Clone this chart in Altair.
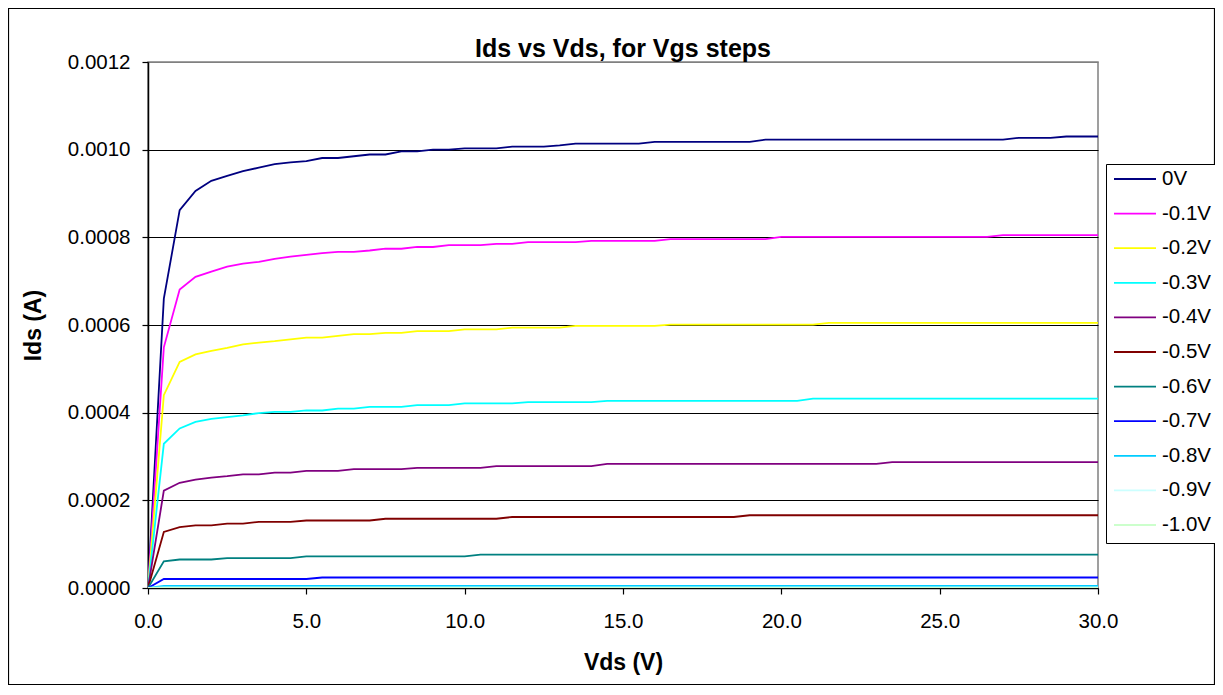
import altair as alt
import pandas as pd

# Drain-source voltage (V)
vds = [0.0, 0.5, 1.0, 1.5, 2.0, 2.5, 3.0, 3.5, 4.0, 4.5,
       5.0, 5.5, 6.0, 6.5, 7.0, 7.5, 8.0, 8.5, 9.0, 9.5,
       10.0, 10.5, 11.0, 11.5, 12.0, 12.5, 13.0, 13.5, 14.0, 14.5,
       15.0, 15.5, 16.0, 16.5, 17.0, 17.5, 18.0, 18.5, 19.0, 19.5,
       20.0, 20.5, 21.0, 21.5, 22.0, 22.5, 23.0, 23.5, 24.0, 24.5,
       25.0, 25.5, 26.0, 26.5, 27.0, 27.5, 28.0, 28.5, 29.0, 29.5,
       30.0]

# Drain current per Vgs step, in microamps
ids_0v = [0, 660, 862, 906, 929, 940, 951, 959, 967, 971,
          974, 981, 981, 985, 989, 989, 996, 996, 1000, 1000,
          1003, 1003, 1003, 1007, 1007, 1007, 1010, 1014, 1014, 1014,
          1014, 1014, 1018, 1018, 1018, 1018, 1018, 1018, 1018, 1023,
          1023, 1023, 1023, 1023, 1023, 1023, 1023, 1023, 1023, 1023,
          1023, 1023, 1023, 1023, 1023, 1027, 1027, 1027, 1030, 1030,
          1030]
ids_m01 = [0, 549, 681, 710, 722, 733, 740, 744, 751, 756,
           760, 764, 767, 767, 770, 774, 774, 778, 778, 782,
           782, 782, 785, 785, 789, 789, 789, 789, 792, 792,
           792, 792, 792, 796, 796, 796, 796, 796, 796, 796,
           801, 801, 801, 801, 801, 801, 801, 801, 801, 801,
           801, 801, 801, 801, 805, 805, 805, 805, 805, 805,
           805]
ids_m02 = [0, 440, 516, 533, 541, 548, 556, 560, 563, 567,
           571, 571, 575, 579, 579, 582, 582, 586, 586, 586,
           590, 590, 590, 594, 594, 594, 594, 598, 598, 598,
           598, 598, 598, 601, 601, 601, 601, 601, 601, 601,
           601, 601, 601, 605, 605, 605, 605, 605, 605, 605,
           605, 605, 605, 605, 605, 605, 605, 605, 605, 605,
           605]
ids_m03 = [0, 329, 364, 379, 386, 390, 394, 399, 402, 402,
           405, 405, 409, 409, 413, 413, 413, 417, 417, 417,
           421, 421, 421, 421, 424, 424, 424, 424, 424, 427,
           427, 427, 427, 427, 427, 427, 427, 427, 427, 427,
           427, 427, 432, 432, 432, 432, 432, 432, 432, 432,
           432, 432, 432, 432, 432, 432, 432, 432, 432, 432,
           432]
ids_m04 = [0, 222, 240, 247, 252, 255, 259, 259, 263, 263,
           267, 267, 267, 271, 271, 271, 271, 274, 274, 274,
           274, 274, 278, 278, 278, 278, 278, 278, 278, 283,
           283, 283, 283, 283, 283, 283, 283, 283, 283, 283,
           283, 283, 283, 283, 283, 283, 283, 287, 287, 287,
           287, 287, 287, 287, 287, 287, 287, 287, 287, 287,
           287]
ids_m05 = [0, 128, 139, 143, 143, 147, 147, 151, 151, 151,
           154, 154, 154, 154, 154, 158, 158, 158, 158, 158,
           158, 158, 158, 162, 162, 162, 162, 162, 162, 162,
           162, 162, 162, 162, 162, 162, 162, 162, 166, 166,
           166, 166, 166, 166, 166, 166, 166, 166, 166, 166,
           166, 166, 166, 166, 166, 166, 166, 166, 166, 166,
           166]
ids_m06 = [0, 61, 65, 65, 65, 68, 68, 68, 68, 68,
           72, 72, 72, 72, 72, 72, 72, 72, 72, 72,
           72, 76, 76, 76, 76, 76, 76, 76, 76, 76,
           76, 76, 76, 76, 76, 76, 76, 76, 76, 76,
           76, 76, 76, 76, 76, 76, 76, 76, 76, 76,
           76, 76, 76, 76, 76, 76, 76, 76, 76, 76,
           76]
ids_m07 = [0, 20.5, 20.5, 20.5, 20.5, 20.5, 20.5, 20.5, 20.5, 20.5,
           20.5, 24, 24, 24, 24, 24, 24, 24, 24, 24,
           24, 24, 24, 24, 24, 24, 24, 24, 24, 24,
           24, 24, 24, 24, 24, 24, 24, 24, 24, 24,
           24, 24, 24, 24, 24, 24, 24, 24, 24, 24,
           24, 24, 24, 24, 24, 24, 24, 24, 24, 24,
           24]
ids_m08 = [0, 4.6, 4.6, 4.6, 4.6, 4.6, 4.6, 4.6, 4.6, 4.6,
           4.6, 4.6, 4.6, 4.6, 4.6, 4.6, 4.6, 4.6, 4.6, 4.6,
           4.6, 4.6, 4.6, 4.6, 4.6, 4.6, 4.6, 4.6, 4.6, 4.6,
           4.6, 4.6, 4.6, 4.6, 4.6, 4.6, 4.6, 4.6, 4.6, 4.6,
           4.6, 4.6, 4.6, 4.6, 4.6, 4.6, 4.6, 4.6, 4.6, 4.6,
           4.6, 4.6, 4.6, 4.6, 4.6, 4.6, 4.6, 4.6, 4.6, 4.6,
           4.6]
ids_m09 = [0, 1.5, 1.5, 1.5, 1.5, 1.5, 1.5, 1.5, 1.5, 1.5,
           1.5, 1.5, 1.5, 1.5, 1.5, 1.5, 1.5, 1.5, 1.5, 1.5,
           1.5, 1.5, 1.5, 1.5, 1.5, 1.5, 1.5, 1.5, 1.5, 1.5,
           1.5, 1.5, 1.5, 1.5, 1.5, 1.5, 1.5, 1.5, 1.5, 1.5,
           1.5, 1.5, 1.5, 1.5, 1.5, 1.5, 1.5, 1.5, 1.5, 1.5,
           1.5, 1.5, 1.5, 1.5, 1.5, 1.5, 1.5, 1.5, 1.5, 1.5,
           1.5]
ids_m10 = [0, 0.5, 0.5, 0.5, 0.5, 0.5, 0.5, 0.5, 0.5, 0.5,
           0.5, 0.5, 0.5, 0.5, 0.5, 0.5, 0.5, 0.5, 0.5, 0.5,
           0.5, 0.5, 0.5, 0.5, 0.5, 0.5, 0.5, 0.5, 0.5, 0.5,
           0.5, 0.5, 0.5, 0.5, 0.5, 0.5, 0.5, 0.5, 0.5, 0.5,
           0.5, 0.5, 0.5, 0.5, 0.5, 0.5, 0.5, 0.5, 0.5, 0.5,
           0.5, 0.5, 0.5, 0.5, 0.5, 0.5, 0.5, 0.5, 0.5, 0.5,
           0.5]

series_names = ["0V", "-0.1V", "-0.2V", "-0.3V", "-0.4V", "-0.5V",
                "-0.6V", "-0.7V", "-0.8V", "-0.9V", "-1.0V"]
series_colors = ["#000080", "#FF00FF", "#FFFF00", "#00FFFF", "#800080", "#800000",
                 "#008080", "#0000FF", "#00CCFF", "#CCFFFF", "#CCFFCC"]
series_values = [ids_0v, ids_m01, ids_m02, ids_m03, ids_m04, ids_m05,
                 ids_m06, ids_m07, ids_m08, ids_m09, ids_m10]

chart_title = "Ids vs Vds, for Vgs steps"
y_ticks = [0.0, 0.0002, 0.0004, 0.0006, 0.0008, 0.0010, 0.0012]
x_ticks = [0, 5, 10, 15, 20, 25, 30]

rows = []
for si, (name, vals) in enumerate(zip(series_names, series_values)):
    for v, i_ua in zip(vds, vals):
        rows.append({"Vgs": name, "order": si, "Vds": v, "Ids": i_ua * 1e-6})
df = pd.DataFrame(rows)

FONT = "Liberation Sans"

lines = alt.Chart(df).mark_line(strokeWidth=1.8, clip=True).encode(
    x=alt.X("Vds:Q",
            scale=alt.Scale(domain=[0, 30], nice=False, zero=True),
            axis=alt.Axis(values=x_ticks, format=".1f", title="Vds (V)",
                          grid=False, tickSize=6, labelPadding=17,
                          labelFlush=False, titlePadding=20)),
    y=alt.Y("Ids:Q",
            scale=alt.Scale(domain=[0, 0.0012], nice=False),
            axis=alt.Axis(values=y_ticks, format=".4f", title="Ids (A)",
                          grid=True, tickSize=6, labelPadding=12,
                          labelFlush=False, titlePadding=22,
                          gridColor={"condition": {"test": "datum.value > 0.00119",
                                                   "value": "#808080"},
                                     "value": "black"})),
    color=alt.Color("Vgs:N",
                    scale=alt.Scale(domain=series_names, range=series_colors),
                    sort=series_names,
                    legend=alt.Legend(title=None, orient="none",
                                      legendX=958, legendY=102,
                                      symbolType="stroke", symbolSize=1764,
                                      symbolStrokeWidth=1.8,
                                      clipHeight=16, rowPadding=13.6,
                                      labelFontSize=20.5, labelFont=FONT,
                                      labelColor="black", labelOffset=5,
                                      strokeColor="black", fillColor="white",
                                      padding=7)),
    detail="Vgs:N",
    order="Vds:Q",
)

single = pd.DataFrame({"label": [chart_title]})
title_mark = alt.Chart(single).mark_text(
    font=FONT, fontSize=25, fontWeight="bold", color="black",
    align="center", baseline="alphabetic",
).encode(text="label:N", x=alt.value(475), y=alt.value(-5))

outer = alt.Chart(single).mark_rect(filled=False, stroke="black",
                                    strokeWidth=1.2).encode(
    x=alt.value(-139.5), x2=alt.value(1066.5),
    y=alt.value(-53.5), y2=alt.value(622.5),
)

chart = alt.layer(lines, title_mark, outer).properties(
    width=950, height=526,
    autosize=alt.AutoSizeParams(type="none"),
    padding={"left": 140, "top": 54, "right": 117, "bottom": 97},
    background="white",
).configure_view(
    stroke="#808080", strokeWidth=1.5, fill="white"
).configure_axis(
    labelFont=FONT, labelFontSize=20.5, labelColor="black",
    titleFont=FONT, titleFontSize=23, titleFontWeight="bold", titleColor="black",
    domainColor="black", domainWidth=1.5, tickColor="black", tickWidth=1.2,
    gridWidth=1.2,
)

chart.save("out.html", embed_options={"renderer": "svg", "actions": False})
